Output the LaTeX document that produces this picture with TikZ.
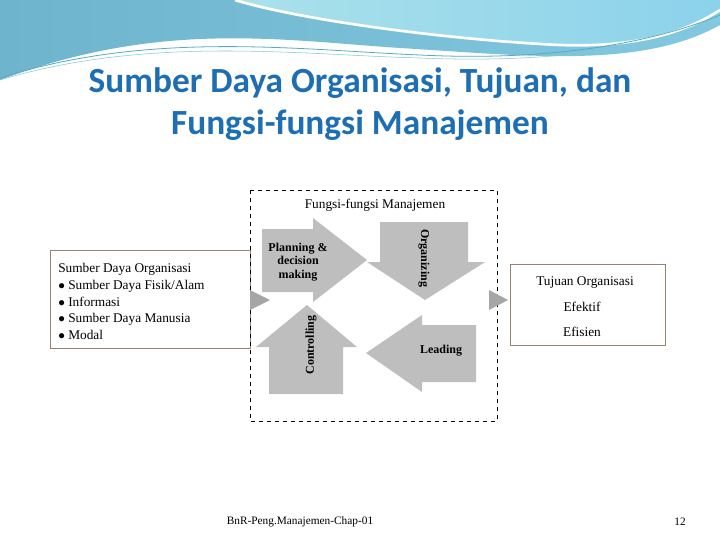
\documentclass[tikz,border=0pt]{standalone}
\usepackage{fontspec}
\setmainfont{Liberation Serif}
\newfontfamily\titlefont{Carlito}
\definecolor{ttl}{RGB}{30,110,180}
\definecolor{arr}{RGB}{190,190,190}
\definecolor{bx}{RGB}{150,130,110}
\definecolor{wa}{RGB}{110,180,205}
\definecolor{wb}{RGB}{130,200,225}
\definecolor{wc}{RGB}{170,225,235}
\definecolor{wd}{RGB}{140,210,235}
\definecolor{we}{RGB}{90,170,190}
\definecolor{wf}{RGB}{130,200,215}
\begin{document}
\begin{tikzpicture}[x=0.75pt,y=-0.75pt,
  ar/.style={fill=arr,draw=none},
  lbl/.style={font=\fontsize{9}{10}\selectfont\bfseries,align=center,inner sep=0pt},
  txt/.style={font=\fontsize{10}{12}\selectfont,anchor=west,inner sep=0pt}]
\useasboundingbox (0,0) rectangle (720,540);
\fill[white] (0,0) rectangle (720,540);
% top waves
\shade[left color=wa,right color=wb]
  (0,0) -- (720,0) -- (720,25) .. controls (640,70) and (520,55) .. (400,48) .. controls (280,40) and (160,20) .. (0,80) -- cycle;
\shade[left color=wc,right color=wd]
  (235,0) .. controls (300,20) and (450,40) .. (560,45) .. controls (640,48) and (690,30) .. (720,10) -- (720,0) -- cycle;
\draw[white,line width=2pt] (235,0) .. controls (300,20) and (450,40) .. (560,45) .. controls (640,48) and (690,30) .. (720,10);
\draw[we,line width=0.6pt] (0,78) .. controls (150,30) and (300,50) .. (420,55) .. controls (560,62) and (660,40) .. (720,15);
\draw[wf,line width=0.4pt] (0,80) .. controls (150,35) and (300,55) .. (420,58) .. controls (560,64) and (660,45) .. (720,22);
% title
\node[font=\titlefont\bfseries\fontsize{26.5}{32}\selectfont,text=ttl,align=center] (title) at (360,104) {Sumber Daya Organisasi, Tujuan, dan\\Fungsi-fungsi Manajemen};
% boxes
\draw[bx,line width=0.5pt] (50,250) rectangle (250,348);
\draw[bx,line width=0.5pt] (510,264) rectangle (665,345);
\draw[dashed,line width=0.6pt] (250,190) rectangle (497,421);
\node[font=\fontsize{10}{12}\selectfont] (fm) at (375,205) {Fungsi-fungsi Manajemen};
% small triangles
\fill[gray!70!white] (250,290) -- (270,300) -- (250,310) -- cycle;
\fill[gray!70!white] (489,290) -- (508,300) -- (489,310) -- cycle;
% planning arrow
\fill[ar] (262,229) -- (313,229) -- (313,218) -- (367,260) -- (313,302) -- (313,292) -- (262,292) -- cycle;
% organizing arrow
\fill[ar] (380,222) -- (468,222) -- (468,262) -- (485,262) -- (425,300) -- (367,262) -- (380,262) -- cycle;
% controlling arrow
\fill[ar] (269,394) -- (269,347) -- (256,347) -- (307,305) -- (357,347) -- (343,347) -- (343,394) -- cycle;
% leading arrow
\fill[ar] (476,325) -- (422,325) -- (422,315) -- (366,353) -- (422,392) -- (422,382) -- (476,382) -- cycle;
\node[lbl] (pl) at (298,262) {Planning \&\\decision\\making};
\node[lbl,rotate=-90] (org) at (424,258) {Organizing};
\node[lbl,rotate=90] (ctl) at (311,345) {Controlling};
\node[lbl] (lead) at (441,351) {Leading};
% left text
\node[txt] (l0) at (58,269) {Sumber Daya Organisasi};
\node[txt] (l1) at (58,286) {$\bullet$ Sumber Daya Fisik/Alam};
\node[txt] (l2) at (58,302) {$\bullet$ Informasi};
\node[txt] (l3) at (58,319) {$\bullet$ Sumber Daya Manusia};
\node[txt] (l4) at (58,335) {$\bullet$ Modal};
% right text
\node[font=\fontsize{10}{12}\selectfont] (r0) at (585,283) {Tujuan Organisasi};
\node[font=\fontsize{10}{12}\selectfont] (r1) at (582,307) {Efektif};
\node[font=\fontsize{10}{12}\selectfont] (r2) at (582,332) {Efisien};
% footer
\node[font=\fontsize{8.5}{10}\selectfont] (ft) at (300,522) {BnR-Peng.Manajemen-Chap-01};
\node[font=\fontsize{8.5}{10}\selectfont] (pg) at (680,522) {12};
\end{tikzpicture}
\end{document}
